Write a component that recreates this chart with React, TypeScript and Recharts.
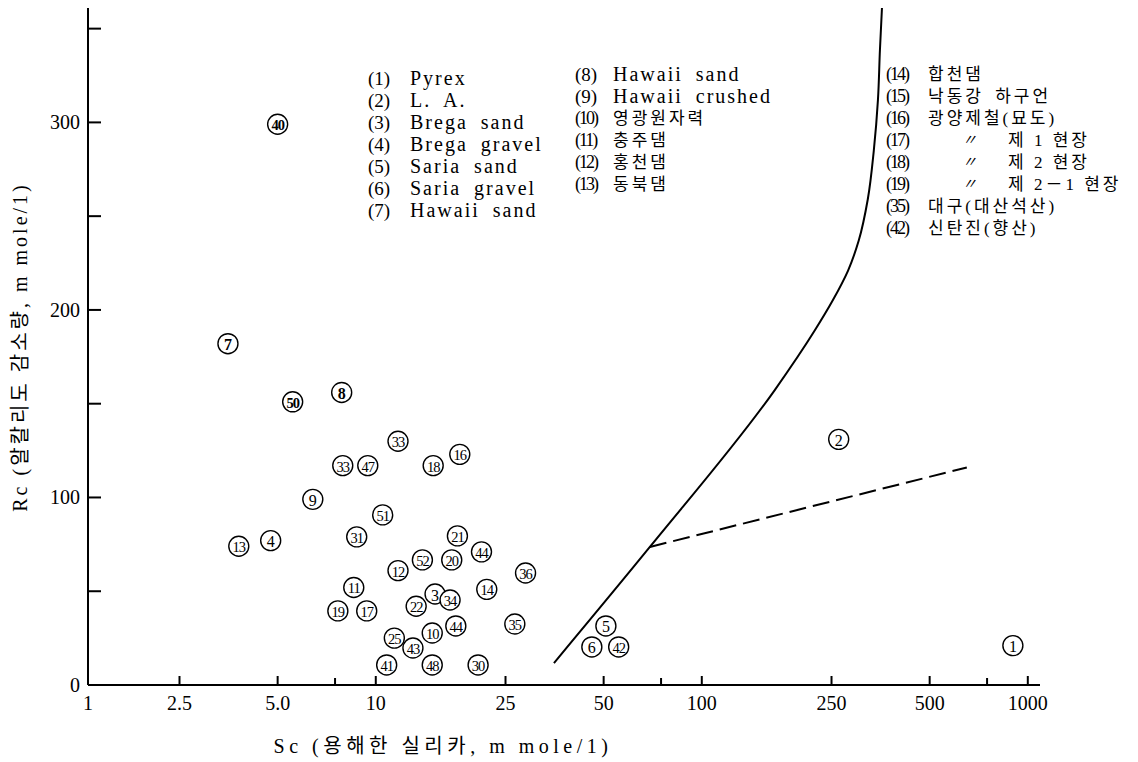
import React from "react";
import { ScatterChart, Scatter, XAxis, YAxis } from "recharts";

const W = 1138;
const H = 762;
const SERIF = "'Liberation Serif', 'Noto Sans CJK KR', serif";

// circled sample numbers with dissolved silica (Sc) and alkalinity reduction (Rc)
const markerLabels = ["1", "2", "3", "4", "5", "6", "7", "8", "9", "10", "11", "12", "13", "14", "16", "17", "18", "19", "20", "21", "22", "25", "30", "31", "33", "33", "34", "35", "36", "40", "41", "42", "43", "44", "44", "47", "48", "50", "51", "52"];
const markerSc = [900, 263, 15.2, 4.76, 50.8, 46, 3.52, 7.86, 6.41, 14.9, 8.56, 11.7, 3.8, 21.9, 18.1, 9.38, 15, 7.65, 17.1, 17.8, 13.3, 11.4, 20.6, 8.74, 11.7, 7.92, 16.9, 26.7, 28.8, 5.0, 10.8, 55.6, 13.0, 21.1, 17.6, 9.45, 14.9, 5.56, 10.5, 13.9];
const markerRc = [21, 131, 48.5, 77, 31.5, 20.3, 182, 156, 99, 27.7, 52, 61, 74, 51, 123, 39.5, 117, 39.5, 66.7, 79.5, 42, 25, 10.7, 79, 130, 117, 45.3, 32.5, 59.7, 299, 10.7, 20.3, 19.7, 71, 31.5, 117, 10.7, 151, 90.7, 66.7];

// solid boundary curve
const boundarySc = [35.2, 69.3, 167, 222, 252, 281, 303, 323, 337, 347, 352, 357];
const boundaryRc = [11.7, 73.6, 157, 189, 205, 221, 237, 259, 285, 312, 339, 361];

// dashed branch
const dashedSc = [69.3, 650];
const dashedRc = [73.6, 116];

// axes
const xAxisStart = 1.31;
const xAxisEnd = 1090;
const xTicks = [xAxisStart, 2.5, 5, 7.5, 10, 25, 50, 75, 100, 250, 500, 750, 1000];
const xTickLabels = ["1", "2.5", "5.0", "", "10", "25", "50", "", "100", "250", "500", "", "1000"];
const yTicks = [0, 50, 100, 150, 200, 250, 300, 350];
const yTickLabels = ["0", "", "100", "", "200", "", "300", ""];

// legend
const legendCol1Nums = ["(1)", "(2)", "(3)", "(4)", "(5)", "(6)", "(7)"];
const legendCol1Names = ["Pyrex", "L. A.", "Brega sand", "Brega gravel", "Saria sand", "Saria gravel", "Hawaii sand"];
const legendCol2Nums = ["(8)", "(9)", "(10)", "(11)", "(12)", "(13)"];
const legendCol2Names = ["Hawaii sand", "Hawaii crushed", "영광원자력", "충주댐", "홍천댐", "동북댐"];
const legendCol3Nums = ["(14)", "(15)", "(16)", "(17)", "(18)", "(19)", "(35)", "(42)"];
const legendCol3Names = ["합천댐", "낙동강 하구언", "광양제철(묘도)", "〃 제 1 현장", "〃 제 2 현장", "〃 제 2－1 현장", "대구(대산석산)", "신탄진(향산)"];

const markers = markerLabels.map((label, i) => ({ label, sc: markerSc[i], rc: markerRc[i] }));
const boundary = boundarySc.map((sc, i) => ({ sc, rc: boundaryRc[i] }));
const dashed = dashedSc.map((sc, i) => ({ sc, rc: dashedRc[i] }));

const boldMarkers = new Set(["7", "8", "40", "50"]);
const hasHangul = (s: string) => /[\uac00-\ud7a3]/.test(s);

function CircledMarker(props: any) {
  const { cx, cy, payload } = props;
  const two = payload.label.length > 1;
  return (
    <g>
      <circle cx={cx} cy={cy} r={10} fill="#fff" stroke="#000" strokeWidth={1.4} />
      <text
        x={cx}
        y={cy + 1}
        textAnchor="middle"
        dominantBaseline="central"
        fontFamily={SERIF}
        fontSize={two ? 14.5 : 16}
        fontWeight={boldMarkers.has(payload.label) ? 700 : 400}
        letterSpacing={two ? -1 : 0}
      >
        {payload.label}
      </text>
    </g>
  );
}

function XTick(props: any) {
  const { x, y, payload } = props;
  const i = xTicks.findIndex((t) => Math.abs(t - payload.value) < 1e-9);
  const label = i >= 0 ? xTickLabels[i] : "";
  return (
    <g>
      {i > 0 && <line x1={x} x2={x} y1={y} y2={y - (label ? 9 : 7)} stroke="#000" strokeWidth={2} />}
      {label && (
        <text x={x} y={y + 25} textAnchor="middle" fontFamily={SERIF} fontSize={20} fill="#000">
          {label}
        </text>
      )}
    </g>
  );
}

function YTick(props: any) {
  const { x, y, payload } = props;
  const i = yTicks.indexOf(payload.value);
  const label = i >= 0 ? yTickLabels[i] : "";
  return (
    <g>
      {i > 0 && <line x1={x} x2={x + 13} y1={y} y2={y} stroke="#000" strokeWidth={2} />}
      {label && (
        <text x={x - 8} y={y} textAnchor="end" dominantBaseline="central" fontFamily={SERIF} fontSize={20} fill="#000">
          {label}
        </text>
      )}
    </g>
  );
}

function LegendColumn({ nums, names, numX, nameX, y0 }: { nums: string[]; names: string[]; numX: number; nameX: number; y0: number }) {
  return (
    <g>
      {nums.map((n, i) => {
        const y = y0 + i * 22;
        const name = names[i];
        const ditto = name.startsWith("〃");
        const wide = n.length > 3;
        return (
          <g key={n}>
            <text x={numX} y={y} dominantBaseline="central" fontSize={wide ? 18 : 19} letterSpacing={wide ? -2 : 0}>
              {n}
            </text>
            {ditto ? (
              <>
                <text x={nameX + 34} y={y} dominantBaseline="central" fontSize={15} fontStyle="italic">
                  〃
                </text>
                <text x={nameX + 80} y={y} dominantBaseline="central" fontSize={17} letterSpacing={3}>
                  {name.slice(2)}
                </text>
              </>
            ) : (
              <text
                x={nameX}
                y={y}
                dominantBaseline="central"
                fontSize={hasHangul(name) ? 17 : 20}
                letterSpacing={hasHangul(name) ? 3 : 2}
                wordSpacing={hasHangul(name) ? 4 : 6}
              >
                {name}
              </text>
            )}
          </g>
        );
      })}
    </g>
  );
}

export default function App() {
  return (
    <div style={{ position: "absolute", left: 0, top: 0, width: W, height: H, background: "#fff" }}>
      <ScatterChart width={W} height={H} margin={{ top: 8, right: 98, bottom: 37, left: 28 }}>
        <XAxis
          type="number"
          dataKey="sc"
          scale="log"
          domain={[xAxisStart, xAxisEnd]}
          allowDataOverflow
          ticks={xTicks}
          interval={0}
          tick={<XTick />}
          tickLine={false}
          tickSize={0}
          tickMargin={0}
          height={40}
          axisLine={{ stroke: "#000", strokeWidth: 2 }}
        />
        <YAxis
          type="number"
          dataKey="rc"
          domain={[0, 361]}
          allowDataOverflow
          ticks={yTicks}
          interval={0}
          tick={<YTick />}
          tickLine={false}
          tickSize={0}
          tickMargin={0}
          width={60}
          axisLine={{ stroke: "#000", strokeWidth: 2 }}
        />
        <Scatter
          data={boundary}
          line={{ stroke: "#000", strokeWidth: 2 }}
          lineType="joint"
          lineJointType="monotoneY"
          shape={() => <g />}
          isAnimationActive={false}
        />
        <Scatter
          data={dashed}
          line={{ stroke: "#000", strokeWidth: 2, strokeDasharray: "17 7" }}
          lineType="joint"
          shape={() => <g />}
          isAnimationActive={false}
        />
        <Scatter data={markers} shape={<CircledMarker />} isAnimationActive={false} />
      </ScatterChart>
      <svg
        width={W}
        height={H}
        style={{ position: "absolute", left: 0, top: 0, pointerEvents: "none" }}
        fontFamily={SERIF}
        fill="#000"
      >
        <LegendColumn nums={legendCol1Nums} names={legendCol1Names} numX={368} nameX={410} y0={78} />
        <LegendColumn nums={legendCol2Nums} names={legendCol2Names} numX={575} nameX={613} y0={74} />
        <LegendColumn nums={legendCol3Nums} names={legendCol3Names} numX={886} nameX={928} y0={74} />
        <text transform="translate(20,347) rotate(-90)" textAnchor="middle" dominantBaseline="central" fontSize={20} letterSpacing={3}>
          Rc (알칼리도 감소량, m mole/1)
        </text>
        <text x={443} y={746} textAnchor="middle" dominantBaseline="central" fontSize={20} letterSpacing={4.5}>
          Sc (용해한 실리카, m mole/1)
        </text>
      </svg>
    </div>
  );
}
